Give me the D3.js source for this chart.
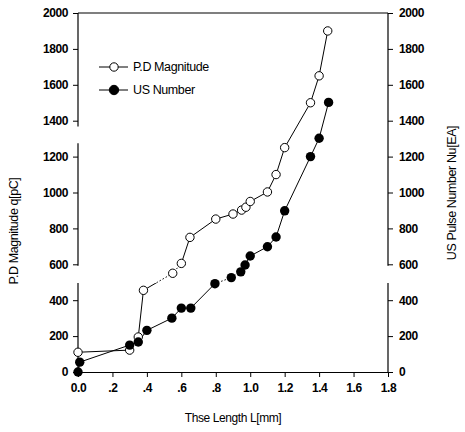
<!DOCTYPE html>
<html>
<head>
<meta charset="utf-8">
<script src="https://cdn.jsdelivr.net/npm/d3@7"></script>
<style>
  body { margin: 0; background: #fff; }
  text { font-family: Arial, 'Liberation Sans', sans-serif; fill: #000; }
</style>
</head>
<body>
<svg id="chart"></svg>
<script>
// data
const pdLength = [0.0, 0.3, 0.35, 0.38, 0.55, 0.6, 0.65, 0.8, 0.9, 0.95, 0.975, 1.0, 1.1, 1.15, 1.2, 1.35, 1.4, 1.45];
const pdValue  = [110, 122, 195, 455, 550, 605, 750, 852, 880, 902, 918, 950, 1003, 1100, 1250, 1500, 1650, 1900];
const usLength = [0.0, 0.01, 0.3, 0.35, 0.4, 0.545, 0.6, 0.655, 0.795, 0.89, 0.945, 0.97, 1.0, 1.1, 1.15, 1.2, 1.35, 1.4, 1.455];
const usValue  = [0, 55, 150, 167, 232, 300, 356, 356, 492, 526, 558, 596, 646, 698, 752, 898, 1200, 1302, 1502];
const xTicks = [0, 0.2, 0.4, 0.6, 0.8, 1.0, 1.2, 1.4, 1.6, 1.8];
const xTickLabels = ['0.0', '.2', '.4', '.6', '.8', '1.0', '1.2', '1.4', '1.6', '1.8'];
const yTicks = [0, 200, 400, 600, 800, 1000, 1200, 1400, 1600, 1800, 2000];
// broken axis segments [from, to] in data units
const leftSegments = [[0, 496], [592, 1275], [1368, 2000]];
const rightSegments = [[0, 496], [592, 2000]];
const breakBand = [496, 592];

const W = 465, H = 432;
const svg = d3.select('#chart').attr('width', W).attr('height', H);

const x = d3.scaleLinear().domain([0, 1.8]).range([78, 388]);
const y = d3.scaleLinear().domain([0, 2000]).range([372, 13]);

const tickFont = g => g.selectAll('text')
  .attr('font-size', null)
  .style('font-size', '12px')
  .style('font-weight', 'bold')
  .style('letter-spacing', '-0.4px')
  .style('font-family', 'Arial, "Liberation Sans", sans-serif');

// bottom axis
const xAxis = svg.append('g')
  .attr('transform', `translate(0, ${y(0)})`)
  .call(d3.axisBottom(x).tickValues(xTicks)
    .tickFormat((d, i) => xTickLabels[i]).tickSize(5).tickSizeOuter(0).tickPadding(6))
  .call(tickFont);
xAxis.select('.domain').attr('stroke-width', 1.2);

// top line
svg.append('line')
  .attr('x1', x(0)).attr('x2', x(1.8))
  .attr('y1', y(2000)).attr('y2', y(2000))
  .attr('stroke', '#000').attr('stroke-width', 1.2);

// left axis
const yLeft = svg.append('g')
  .attr('transform', `translate(${x(0)}, 0)`)
  .call(d3.axisLeft(y).tickValues(yTicks).tickFormat(d3.format('d')).tickSize(5).tickPadding(5))
  .call(tickFont);
yLeft.select('.domain').remove();
yLeft.selectAll('.seg')
  .data(leftSegments).enter().append('line')
  .attr('y1', d => y(d[0])).attr('y2', d => y(d[1]))
  .attr('stroke', '#000').attr('stroke-width', 1.2);

// right axis
const yRight = svg.append('g')
  .attr('transform', `translate(${x(1.8)}, 0)`)
  .call(d3.axisRight(y).tickValues(yTicks).tickFormat(d3.format('d')).tickSize(5).tickPadding(6))
  .call(tickFont);
yRight.select('.domain').remove();
yRight.selectAll('.seg')
  .data(rightSegments).enter().append('line')
  .attr('y1', d => y(d[0])).attr('y2', d => y(d[1]))
  .attr('stroke', '#000').attr('stroke-width', 1.2);

// clip paths: solid outside the break band, dotted inside it
const defs = svg.append('defs');
defs.append('clipPath').attr('id', 'outBand')
  .append('path')
  .attr('d', `M0,0H${W}V${y(breakBand[1])}H0Z M0,${y(breakBand[0])}H${W}V${H}H0Z`);
defs.append('clipPath').attr('id', 'inBand')
  .append('rect')
  .attr('x', 0).attr('width', W)
  .attr('y', y(breakBand[1])).attr('height', y(breakBand[0]) - y(breakBand[1]));

const pdData = pdLength.map((d, i) => [d, pdValue[i]]);
const usData = usLength.map((d, i) => [d, usValue[i]]);
const line = d3.line().x(d => x(d[0])).y(d => y(d[1]));

[pdData, usData].forEach(data => {
  svg.append('path').datum(data)
    .attr('d', line).attr('fill', 'none')
    .attr('stroke', '#000').attr('stroke-width', 1)
    .attr('clip-path', 'url(#outBand)');
  svg.append('path').datum(data)
    .attr('d', line).attr('fill', 'none')
    .attr('stroke', '#000').attr('stroke-width', 1)
    .attr('stroke-dasharray', '1.5,2')
    .attr('clip-path', 'url(#inBand)');
});

svg.selectAll('.pd')
  .data(pdData).enter().append('circle')
  .attr('cx', d => x(d[0])).attr('cy', d => y(d[1]))
  .attr('r', 4.2)
  .attr('fill', '#fff').attr('stroke', '#000').attr('stroke-width', 1);

svg.selectAll('.us')
  .data(usData).enter().append('circle')
  .attr('cx', d => x(d[0])).attr('cy', d => y(d[1]))
  .attr('r', 4.7)
  .attr('fill', '#000');

// legend
const legend = [
  {label: 'P.D Magnitude', fill: '#fff', r: 4.2},
  {label: 'US Number', fill: '#000', r: 4.7}
];
legend.forEach((l, i) => {
  const ly = 67 + i * 23;
  svg.append('line')
    .attr('x1', 99).attr('x2', 128).attr('y1', ly).attr('y2', ly)
    .attr('stroke', '#000').attr('stroke-width', 1);
  svg.append('circle')
    .attr('cx', 114).attr('cy', ly).attr('r', l.r)
    .attr('fill', l.fill).attr('stroke', '#000').attr('stroke-width', 1);
  svg.append('text')
    .attr('x', 133).attr('y', ly).attr('dy', '0.35em')
    .style('font-size', '12.5px').style('letter-spacing', '-0.4px')
    .text(l.label);
});

// axis titles
svg.append('text')
  .attr('x', 233).attr('y', 422)
  .attr('text-anchor', 'middle')
  .style('font-size', '12px').style('letter-spacing', '-0.4px')
  .text('Thse Length L[mm]');

svg.append('text')
  .attr('transform', 'rotate(-90)')
  .attr('x', -231).attr('y', 18)
  .attr('text-anchor', 'middle')
  .style('font-size', '12.5px').style('letter-spacing', '-0.4px')
  .text('P.D Magnitude q[pC]');

svg.append('text')
  .attr('transform', 'rotate(-90)')
  .attr('x', -193).attr('y', 456)
  .attr('text-anchor', 'middle')
  .style('font-size', '12.5px').style('letter-spacing', '-0.4px')
  .text('US Pulse Number Nu[EA]');
</script>
</body>
</html>
